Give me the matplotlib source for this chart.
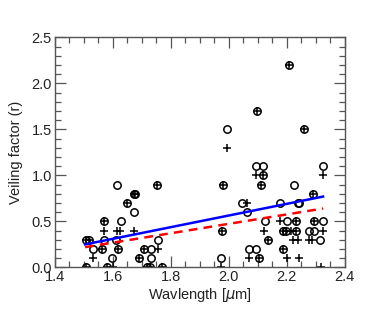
import numpy as np
import matplotlib
matplotlib.use('agg')
import matplotlib.pyplot as plt
from matplotlib.ticker import MultipleLocator

plt.rcParams['font.family'] = ['Liberation Sans', 'DejaVu Sans']

# points measured with method A (open circles)
circ_x = [1.508, 1.519, 1.531, 1.508, 1.571, 1.571, 1.564, 1.579, 1.597, 1.614,
          1.611, 1.620, 1.628, 1.648, 1.673, 1.678, 1.673, 1.752, 1.757, 1.709,
          1.732, 1.692, 1.732, 1.717, 1.729, 1.769,
          1.995, 2.096, 2.209, 2.261, 2.324, 2.094, 2.117, 2.117, 2.110, 1.979,
          2.226, 2.290, 2.045, 2.062, 2.177, 2.237, 2.243, 1.976, 2.125, 2.137,
          2.200, 2.232, 2.186, 2.198, 2.232, 2.188, 2.294, 2.324, 2.278, 2.294,
          2.315, 2.071, 2.094, 2.105, 1.972]
circ_y = [0.3, 0.3, 0.2, 0.0, 0.5, 0.3, 0.2, 0.0, 0.1, 0.9,
          0.3, 0.2, 0.5, 0.7, 0.8, 0.8, 0.6, 0.9, 0.3, 0.2,
          0.2, 0.1, 0.1, 0.0, 0.0, 0.0,
          1.5, 1.7, 2.2, 1.5, 1.1, 1.1, 1.1, 1.0, 0.9, 0.9,
          0.9, 0.8, 0.7, 0.6, 0.7, 0.7, 0.7, 0.4, 0.5, 0.3,
          0.5, 0.5, 0.4, 0.4, 0.4, 0.2, 0.5, 0.5, 0.4, 0.4,
          0.3, 0.2, 0.2, 0.1, 0.1]

# points measured with method B (plus signs)
plus_x = [1.508, 1.519, 1.531, 1.508, 1.571, 1.571, 1.564, 1.579, 1.600, 1.614,
          1.625, 1.620, 1.648, 1.673, 1.678, 1.673, 1.752, 1.757, 1.709, 1.692,
          1.717, 1.729, 1.769,
          1.995, 2.096, 2.209, 2.261, 2.324, 2.094, 2.117, 2.110, 1.979, 2.290,
          2.062, 1.976, 2.122, 2.137, 2.177, 2.232, 2.186, 2.198, 2.215, 2.232,
          2.223, 2.238, 2.188, 2.202, 2.243, 2.294, 2.324, 2.275, 2.286, 2.317,
          2.071, 2.105, 1.972]
plus_y = [0.3, 0.3, 0.1, 0.0, 0.5, 0.4, 0.2, 0.0, 0.0, 0.4,
          0.4, 0.2, 0.7, 0.8, 0.8, 0.4, 0.9, 0.2, 0.2, 0.1,
          0.0, 0.0, 0.0,
          1.3, 1.7, 2.2, 1.5, 1.0, 1.0, 1.0, 0.9, 0.9, 0.8,
          0.7, 0.4, 0.4, 0.3, 0.5, 0.5, 0.4, 0.4, 0.4, 0.4,
          0.3, 0.3, 0.2, 0.1, 0.1, 0.5, 0.4, 0.3, 0.3, 0.0,
          0.1, 0.1, 0.0]

# linear fits
fit_x = [1.505, 2.325]
fit_a = [0.25, 0.77]
fit_b = [0.22, 0.64]

fig = plt.figure(figsize=(3.74, 3.12), dpi=100)
ax = fig.add_axes([0.146, 0.143, 0.776, 0.737])

ax.plot(circ_x, circ_y, 'o', mfc='none', mec='black', ms=5.3, mew=1.1)
ax.plot(plus_x, plus_y, '+', color='black', ms=6, mew=1.1)
ax.plot(fit_x, fit_a, '-', color='#0000ff', lw=1.8)
ax.plot(fit_x, fit_b, '--', color='#ff0000', lw=1.8, dashes=(3.5, 2.5))

ax.set_xlim(1.4, 2.4)
ax.set_ylim(0, 2.5)
ax.xaxis.set_major_locator(MultipleLocator(0.2))
ax.xaxis.set_minor_locator(MultipleLocator(0.05))
ax.yaxis.set_major_locator(MultipleLocator(0.5))
ax.yaxis.set_minor_locator(MultipleLocator(0.1))
ax.tick_params(which='both', direction='in', top=True, right=True,
               color='#555555', labelsize=10.5, labelcolor='#222222', pad=2)
ax.tick_params(which='major', length=8, width=0.9)
ax.tick_params(which='minor', length=4.5, width=0.9)
for s in ax.spines.values():
    s.set_color('#555555')
    s.set_linewidth(1.0)

ax.set_xlabel(r'Wavlength [$\mu$m]', fontsize=10.5, color='#222222', labelpad=1)
ax.set_ylabel('Veiling factor (r)', fontsize=10.5, color='#222222', labelpad=6)

fig.savefig('out.png', dpi=100)
